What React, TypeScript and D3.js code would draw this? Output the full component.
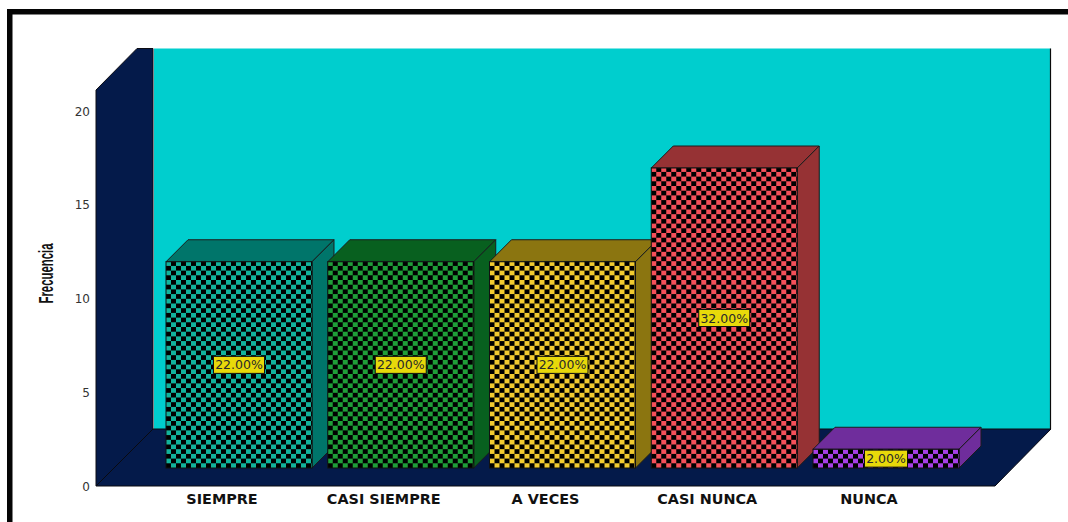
import React from "react";
import * as d3 from "d3";

const categories = ["SIEMPRE", "CASI SIEMPRE", "A VECES", "CASI NUNCA", "NUNCA"];
const frequencies = [11, 11, 11, 16, 1];
const percentLabels = ["22.00%", "22.00%", "22.00%", "32.00%", "2.00%"];
const faceColors = ["#12b39c", "#1f9e38", "#f2cb30", "#f5505a", "#a63fe6"];
const sideColors = ["#00756a", "#08601f", "#8b7510", "#963234", "#6f2d9c"];
const yTicks = [0, 5, 10, 15, 20];

const WIDTH = 1068;
const HEIGHT = 522;
const WALL_COLOR = "#041a4a";
const BACK_COLOR = "#00cece";
const OUTLINE = "#0a0a0a";

// Projection offsets of the box: wall depth and bar depth
const wallDepth = 57;
const barDepth = 22;
const floorY = 486;
const floorLeft = 96;
const floorRight = 995;
const ceilingY = 48.5;
const frontBase = 468;

const y = d3.scaleLinear().domain([0, 20]).range([floorY, 111]);
const x = d3
  .scaleBand<string>()
  .domain(categories)
  .range([166, 959])
  .paddingInner(0.0974)
  .paddingOuter(0);

const poly = (pts: [number, number][]) => pts.map((p) => p.join(",")).join(" ");
const patternId = (i: number) => `checker-${i}`;

export default function App() {
  const barHeightOf = (v: number) => y(0) - y(v);
  return (
    <svg
      width={WIDTH}
      height={HEIGHT}
      style={{ position: "absolute", left: 0, top: 0, background: "#fff" }}
      fontFamily="'DejaVu Sans', sans-serif"
    >
      <defs>
        {faceColors.map((c, i) => (
          <pattern
            key={c}
            id={patternId(i)}
            patternUnits="userSpaceOnUse"
            width={10}
            height={9.4}
            x={x(categories[i])!}
            y={frontBase}
          >
            <rect width={10} height={9.4} fill="#000" />
            <rect x={0} y={0} width={5} height={4.7} fill={c} />
            <rect x={5} y={4.7} width={5} height={4.7} fill={c} />
          </pattern>
        ))}
      </defs>

      {/* outer frame: only the top and left edges fall inside the page */}
      <rect x={7} y={9} width={WIDTH} height={5.5} fill="#050505" />
      <rect x={7} y={9} width={5.5} height={HEIGHT} fill="#050505" />

      {/* back wall */}
      <rect
        x={floorLeft + wallDepth + 1}
        y={ceilingY}
        width={1050.5 - (floorLeft + wallDepth + 1)}
        height={floorY - wallDepth - ceilingY}
        fill={BACK_COLOR}
      />
      <line x1={1050.5} x2={1050.5} y1={ceilingY} y2={429} stroke={OUTLINE} strokeWidth={1.2} />

      {/* left wall, cut off by the plot's upper bound */}
      <polygon
        points={poly([
          [floorLeft, floorY],
          [floorLeft, y(20) - 21],
          [floorLeft + 41, ceilingY],
          [floorLeft + wallDepth, ceilingY],
          [floorLeft + wallDepth, floorY - wallDepth],
        ])}
        fill={WALL_COLOR}
        stroke="#0d0d14"
        strokeWidth={1}
      />

      {/* floor */}
      <polygon
        points={poly([
          [floorLeft, floorY],
          [floorLeft + wallDepth, floorY - wallDepth],
          [floorRight + 56, floorY - wallDepth],
          [floorRight, floorY],
        ])}
        fill={WALL_COLOR}
        stroke="#0a0a10"
        strokeWidth={1}
      />

      {/* y axis tick labels */}
      {yTicks.map((t) => (
        <text key={t} x={90} y={y(t) + 4.5} textAnchor="end" fontSize={12} fill="#333">
          {t}
        </text>
      ))}
      <text
        transform="translate(53,273.5) rotate(-90) scale(0.57,1)"
        textAnchor="middle"
        fontSize={20}
        fontFamily="'Liberation Sans', sans-serif"
        fontWeight="bold"
        fill="#111"
      >
        Frecuencia
      </text>

      {/* bars, each as front, top and side faces */}
      {categories.map((c, i) => {
        const left = x(c)!;
        const w = x.bandwidth();
        const right = left + w;
        const top = frontBase - barHeightOf(frequencies[i]);
        const midY = (top + frontBase) / 2;
        const cx = (left + right) / 2;
        const labelW = percentLabels[i].length > 5 ? 51 : 43;
        return (
          <g key={c}>
            <polygon
              points={poly([
                [left, top],
                [left + barDepth, top - barDepth],
                [right + barDepth, top - barDepth],
                [right, top],
              ])}
              fill={sideColors[i]}
              stroke="#1c1c1c"
              strokeWidth={1}
            />
            <polygon
              points={poly([
                [right, top],
                [right + barDepth, top - barDepth],
                [right + barDepth, frontBase - barDepth],
                [right, frontBase],
              ])}
              fill={sideColors[i]}
              stroke="#1c1c1c"
              strokeWidth={1}
            />
            <rect
              x={left}
              y={top}
              width={w}
              height={frontBase - top}
              fill={`url(#${patternId(i)})`}
              stroke="#111"
              strokeWidth={1}
            />
            <rect
              x={cx - labelW / 2}
              y={midY - 8.5}
              width={labelW}
              height={17}
              fill="#e8d90a"
              stroke="#111"
              strokeWidth={1}
            />
            <text x={cx} y={midY + 4.5} textAnchor="middle" fontSize={12.5} fill="#2a2a2a">
              {percentLabels[i]}
            </text>
            <text
              x={cx - 17}
              y={504}
              textAnchor="middle"
              fontSize={14.4}
              fontWeight="bold"
              fill="#111"
            >
              {c}
            </text>
          </g>
        );
      })}
    </svg>
  );
}
